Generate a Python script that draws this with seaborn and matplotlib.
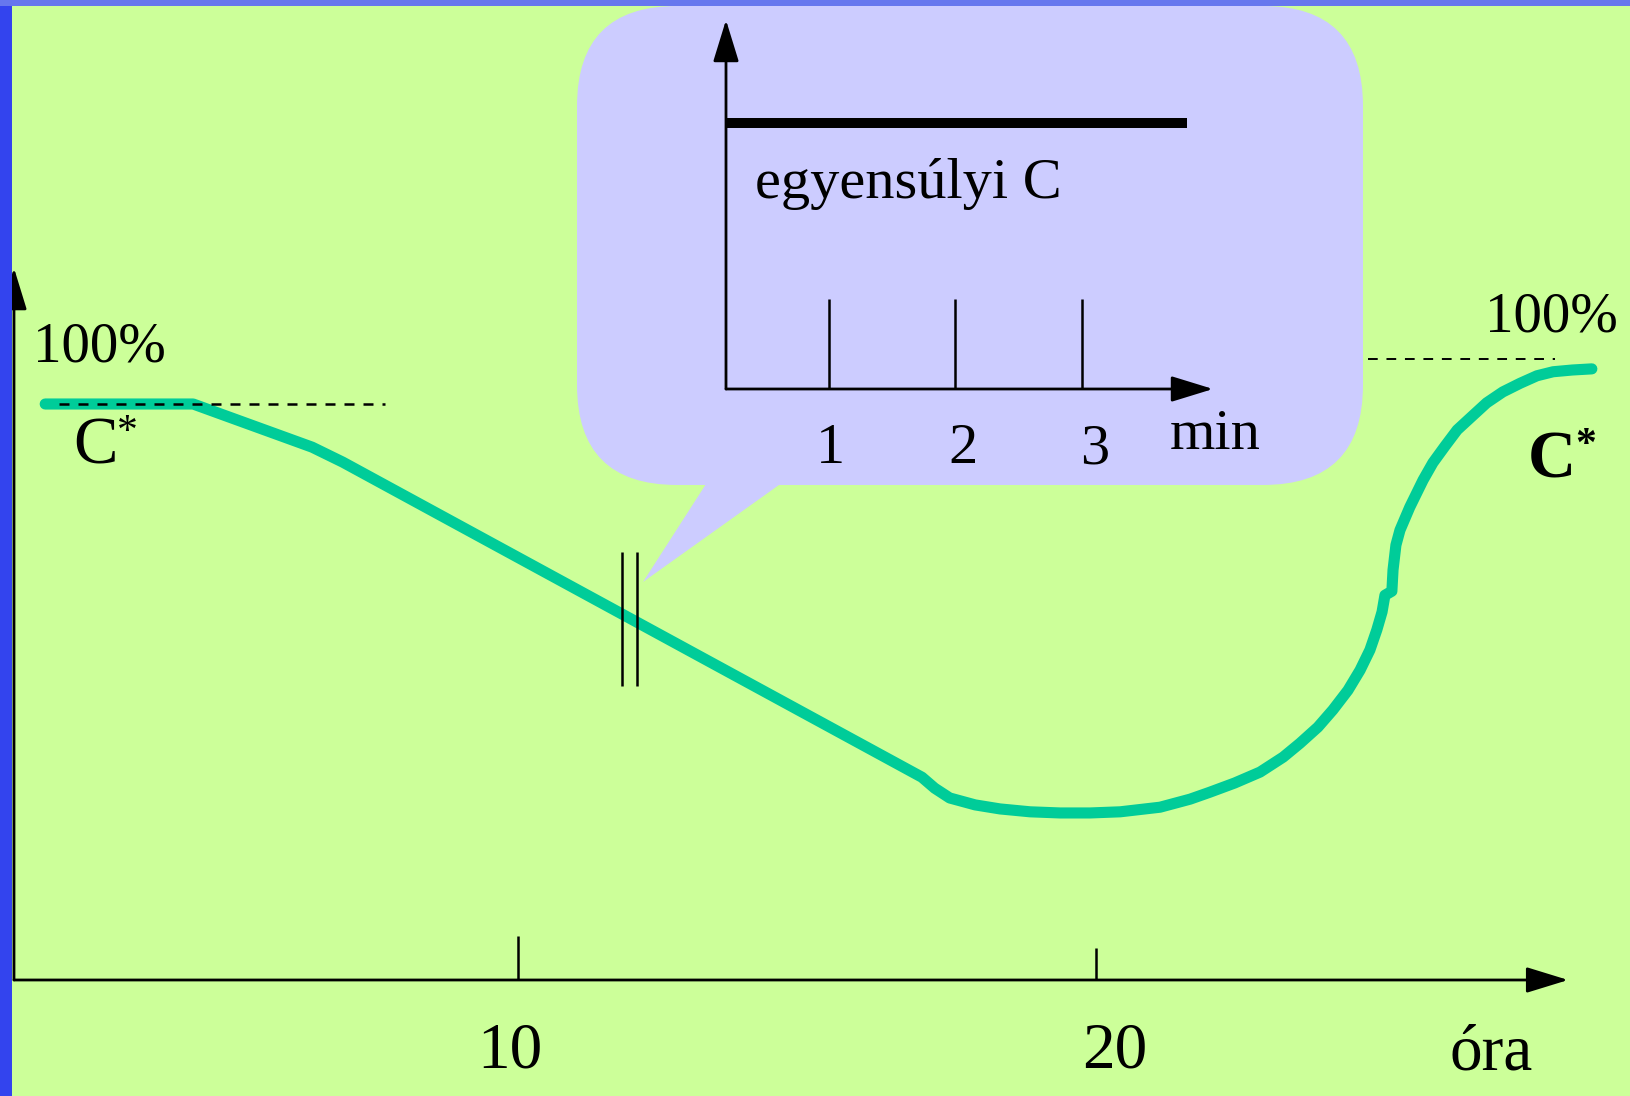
import seaborn as sns
import matplotlib.pyplot as plt
from matplotlib.patches import FancyBboxPatch, Polygon, Rectangle
from matplotlib.transforms import Affine2D

# main curve: concentration (% of C*) against time (hours)
hours = [1.82, 4.38, 6.44, 6.97, 16.99, 17.21, 17.47, 17.91, 18.34, 18.86,
         19.38, 19.90, 20.42, 21.11, 21.63, 21.97, 22.40, 22.84, 23.24, 23.53,
         23.84, 24.10, 24.36, 24.57, 24.74, 24.86, 24.95, 25.00, 25.12, 25.14,
         25.19, 25.26, 25.43, 25.66, 25.83, 26.04, 26.25, 26.51, 26.76, 27.04,
         27.34, 27.63, 27.91, 28.24, 28.58]
conc = [100.0, 100.0, 92.5, 89.9, 35.2, 33.3, 31.6, 30.4, 29.7, 29.2,
        29.0, 29.0, 29.2, 30.0, 31.4, 32.6, 34.2, 36.1, 38.7, 41.1,
        43.9, 46.9, 50.3, 53.8, 57.3, 60.8, 63.9, 66.8, 67.5, 71.2,
        75.5, 78.1, 82.1, 86.8, 89.8, 92.7, 95.5, 97.9, 100.2, 102.1,
        103.6, 104.9, 105.6, 105.9, 106.1]
hour_ticks = [10, 20]
hour_labels = ["10", "20"]

# inset: equilibrium concentration over a few minutes
eq_min = [0, 3.83]
eq_conc = [100, 100]
min_ticks = [1, 2, 3]
min_labels = ["1", "2", "3"]

W, H = 1630, 1096
BG = "#CCFF99"
BUBBLE = "#CCCCFF"
CURVE = "#00CC99"

sns.set_style("white")
plt.rcParams["font.family"] = ["Liberation Serif", "DejaVu Serif"]
plt.rcParams["text.color"] = "black"

fig = plt.figure(figsize=(W / 100, H / 100), dpi=100, facecolor=BG)
# pixel coordinates with origin at the top left
pix = Affine2D().scale(1, -1).translate(0, H)

# main axes over the whole picture
ax = fig.add_axes([0, 0, 1, 1])
ax.set_axis_off()
ax.set_xlim(1.038, 29.24)
ax.set_ylim(-20.14, 170.14)

# speech bubble
bubble = FancyBboxPatch((577, 6), 786, 479, boxstyle="round,pad=0,rounding_size=100",
                        transform=pix, facecolor=BUBBLE, edgecolor="none", zorder=0.5)
ax.add_patch(bubble)
tail = Polygon([(715, 470), (643, 582), (800, 470)], closed=True, transform=pix,
               facecolor=BUBBLE, edgecolor="none", zorder=0.5)
ax.add_patch(tail)

# curve
sns.lineplot(x=hours, y=conc, ax=ax, color=CURVE, linewidth=8, sort=False,
             estimator=None, zorder=2)
ax.lines[-1].set_solid_capstyle("round")
ax.lines[-1].set_solid_joinstyle("round")

# C* reference dashes
ax.hlines(100, 2.06, 7.70, colors="k", linewidth=1.8, linestyles=(0, (4, 3.6)), zorder=3)
ax.hlines(107.8, 24.71, 27.94, colors="k", linewidth=1.4, linestyles=(0, (5, 4.5)), zorder=3)

# break marks on the curve
ax.vlines([11.80, 12.06], 51.0, 74.3, colors="k", linewidth=1.8, zorder=3)

# axes with arrows
arrow = dict(arrowstyle="-|>,head_length=26,head_width=8", mutation_scale=1,
             lw=2, color="k", shrinkA=0, shrinkB=0)
ax.annotate("", xy=(1.28, 123.6), xytext=(1.28, 0), arrowprops=arrow)
ax.annotate("", xy=(28.17, 0), xytext=(1.28, 0), arrowprops=arrow)
ax.vlines(hour_ticks, 0, [7.6, 5.6], colors="k", linewidth=1.8)

# main texts
ax.text(510, 1068, hour_labels[0], transform=pix, fontsize=47, ha="center", va="baseline")
ax.text(1115, 1068, hour_labels[1], transform=pix, fontsize=47, ha="center", va="baseline")
ax.text(1450, 1070, "óra", transform=pix, fontsize=47, ha="left", va="baseline")
ax.text(33, 361, "100%", transform=pix, fontsize=41, ha="left", va="baseline")
ax.text(1485, 331, "100%", transform=pix, fontsize=41, ha="left", va="baseline")
ax.text(73, 463, "C", transform=pix, fontsize=48, ha="left", va="baseline")
ax.text(117, 443, "*", transform=pix, fontsize=30, ha="left", va="baseline")
ax.text(1528, 477, "C", transform=pix, fontsize=48, fontweight="bold", ha="left", va="baseline")
ax.text(1575, 456, "*", transform=pix, fontsize=30, fontweight="bold", ha="left", va="baseline")

# inset axes inside the bubble
ins = fig.add_axes([726 / W, 1 - 389 / H, (1213 - 726) / W, (389 - 20) / H])
ins.set_axis_off()
ins.patch.set_alpha(0)
ins.set_xlim(0.186, 4.036)
ins.set_ylim(0, 138.7)
sns.lineplot(x=eq_min, y=eq_conc, ax=ins, color="k", linewidth=7.2, estimator=None)
ins.lines[-1].set_solid_capstyle("butt")
ins.vlines(min_ticks, 0, 34, colors="k", linewidth=1.8)
ins.annotate("", xy=(1, 0), xytext=(0, 0), xycoords="axes fraction",
             textcoords="axes fraction", arrowprops=arrow)
ins.annotate("", xy=(0, 1), xytext=(0, 0), xycoords="axes fraction",
             textcoords="axes fraction", arrowprops=arrow)
for x_px, lab in zip([830, 963, 1095], min_labels):
    ax.text(x_px, 463, lab, transform=pix, fontsize=42, ha="center", va="baseline")
ax.text(1170, 449, "min", transform=pix, fontsize=42, ha="left", va="baseline")
ax.text(755, 198, "egyensúlyi C", transform=pix, fontsize=42, ha="left", va="baseline")

# blue frame at the left and top edge
fig.add_artist(Rectangle((0, 0), 12, H, transform=pix, facecolor="#3344EE",
                         edgecolor="none", zorder=10))
fig.add_artist(Rectangle((0, 0), W, 6, transform=pix, facecolor="#6677EE",
                         edgecolor="none", zorder=10))

fig.savefig("out.png", dpi=100, facecolor=BG)
